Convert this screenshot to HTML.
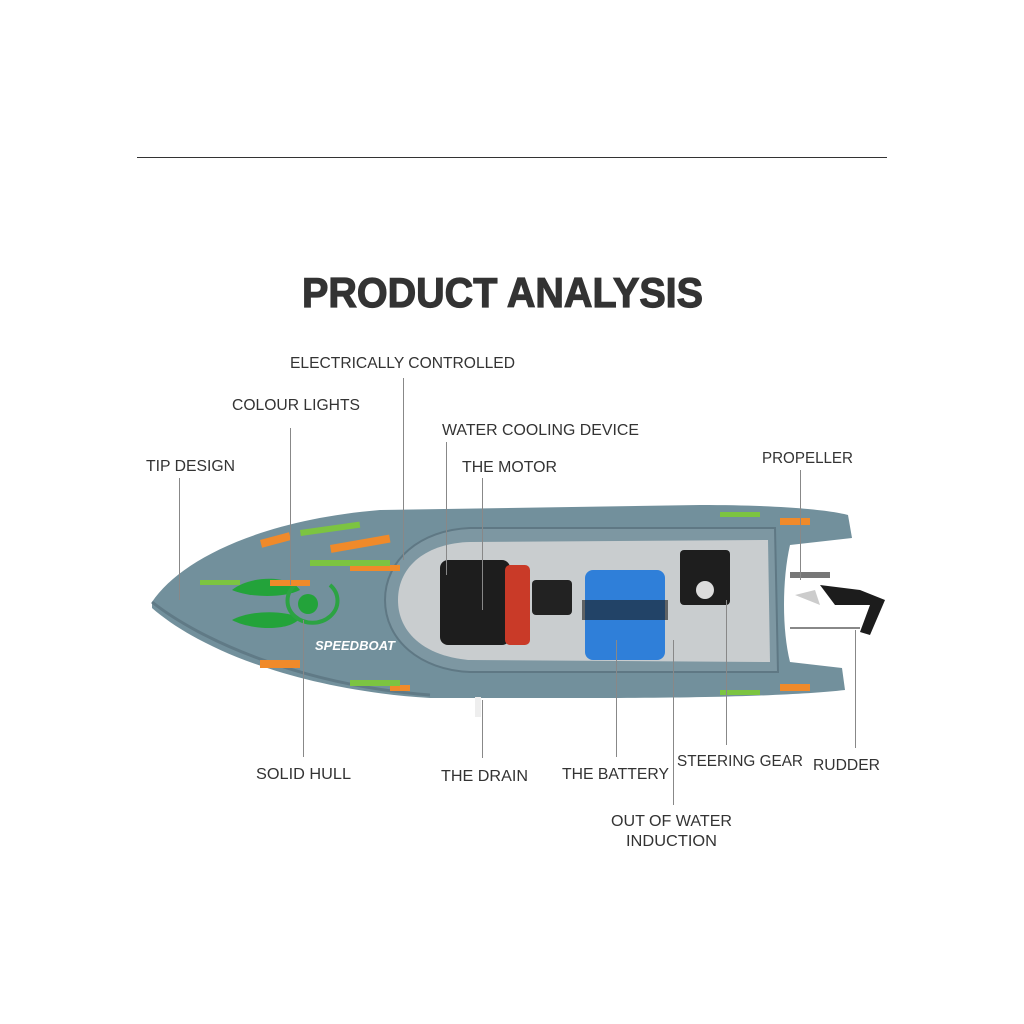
<!DOCTYPE html>
<html><head><meta charset="utf-8"><style>
html,body{margin:0;padding:0;background:#fff;}
svg{display:block;}
text{font-family:"Liberation Sans",sans-serif;fill:#333;}
</style></head><body>
<svg width="1024" height="1024" viewBox="0 0 1024 1024" xmlns="http://www.w3.org/2000/svg">
<rect width="1024" height="1024" fill="#fff"/>
<line x1="137" y1="157.5" x2="887" y2="157.5" stroke="#333" stroke-width="1"/>
<text x="302" y="307" font-size="42" font-weight="bold" textLength="401" lengthAdjust="spacingAndGlyphs" style="fill:#333;stroke:#333;stroke-width:1.2">PRODUCT ANALYSIS</text>

<!-- boat hull -->
<path d="M152,602 C180,560 260,520 380,510 L700,505 C780,505 830,510 848,515 L852,538 L790,545 C782,580 782,630 790,662 L842,668 L845,690 C800,695 720,698 600,698 L430,698 C300,690 200,650 152,608 Z" fill="#72909c"/>
<path d="M152,602 C200,640 300,685 430,695" fill="none" stroke="#607a86" stroke-width="3"/>
<!-- cockpit rim -->
<path d="M385,600 C385,560 420,530 470,528 L775,528 L778,672 L470,672 C420,670 385,640 385,600 Z" fill="#7d97a2" stroke="#5f7884" stroke-width="2"/>
<path d="M398,600 C398,565 428,543 470,542 L768,540 L770,662 L470,660 C428,657 398,635 398,600 Z" fill="#c9cdcf"/>
<!-- interior parts -->
<rect x="440" y="560" width="70" height="85" rx="8" fill="#1d1d1d"/>
<rect x="505" y="565" width="25" height="80" rx="5" fill="#c93a28"/>
<rect x="532" y="580" width="40" height="35" rx="4" fill="#222"/>
<rect x="585" y="570" width="80" height="90" rx="8" fill="#2f7fd9"/>
<rect x="582" y="600" width="86" height="20" fill="#1a1a1a" opacity="0.6"/>
<rect x="680" y="550" width="50" height="55" rx="4" fill="#1e1e1e"/>
<circle cx="705" cy="590" r="9" fill="#ddd"/>
<!-- lights -->
<path d="M232,590 C250,575 290,575 300,590 C285,598 250,598 232,590 Z" fill="#23a33a"/>
<path d="M232,620 C250,630 290,632 300,618 C285,610 250,610 232,620 Z" fill="#23a33a"/>
<circle cx="308" cy="604" r="10" fill="#23a33a"/>
<path d="M295,585 A25,22 0 1,0 330,585" fill="none" stroke="#2ca343" stroke-width="4"/>
<!-- decals -->
<g fill="#f08a2a">
<rect x="260" y="540" width="30" height="8" transform="rotate(-15 260 540)"/>
<rect x="330" y="545" width="60" height="8" transform="rotate(-10 330 545)"/>
<rect x="270" y="580" width="40" height="6"/>
<rect x="350" y="565" width="50" height="6"/>
<rect x="260" y="660" width="40" height="8"/>
<rect x="390" y="685" width="20" height="6"/>
<rect x="780" y="518" width="30" height="7"/>
<rect x="780" y="684" width="30" height="7"/>
</g>
<g fill="#7cc441">
<rect x="300" y="530" width="60" height="6" transform="rotate(-8 300 530)"/>
<rect x="310" y="560" width="80" height="6"/>
<rect x="200" y="580" width="40" height="5"/>
<rect x="350" y="680" width="50" height="6"/>
<rect x="720" y="512" width="40" height="5"/>
<rect x="720" y="690" width="40" height="5"/>
</g>
<text x="315" y="650" font-size="13" font-style="italic" font-weight="bold" style="fill:#fff">SPEEDBOAT</text>
<!-- propeller/rudder -->
<rect x="790" y="572" width="40" height="6" fill="#777"/>
<path d="M795,595 L815,590 L820,605 Z" fill="#ccc"/>
<path d="M820,585 L860,590 L885,600 L870,635 L860,632 L870,605 L835,605 Z" fill="#1c1c1c"/>
<line x1="790" y1="628" x2="860" y2="628" stroke="#888" stroke-width="2"/>
<rect x="475" y="697" width="6" height="20" fill="#eee"/>

<!-- leader lines -->
<g stroke="#888" stroke-width="1">
<line x1="179.5" y1="478" x2="179.5" y2="600"/>
<line x1="290.5" y1="428" x2="290.5" y2="585"/>
<line x1="403.5" y1="378" x2="403.5" y2="560"/>
<line x1="446.5" y1="442" x2="446.5" y2="575"/>
<line x1="482.5" y1="478" x2="482.5" y2="610"/>
<line x1="800.5" y1="470" x2="800.5" y2="580"/>
<line x1="303.5" y1="620" x2="303.5" y2="757"/>
<line x1="482.5" y1="700" x2="482.5" y2="758"/>
<line x1="616.5" y1="640" x2="616.5" y2="757"/>
<line x1="726.5" y1="600" x2="726.5" y2="745"/>
<line x1="855.5" y1="630" x2="855.5" y2="748"/>
<line x1="673.5" y1="640" x2="673.5" y2="805"/>
</g>

<!-- labels -->
<g font-size="16">
<text x="290" y="368" textLength="225" lengthAdjust="spacingAndGlyphs">ELECTRICALLY CONTROLLED</text>
<text x="232" y="410" textLength="128" lengthAdjust="spacingAndGlyphs">COLOUR LIGHTS</text>
<text x="442" y="435" textLength="197" lengthAdjust="spacingAndGlyphs">WATER COOLING DEVICE</text>
<text x="462" y="472" textLength="95" lengthAdjust="spacingAndGlyphs">THE MOTOR</text>
<text x="146" y="471" textLength="89" lengthAdjust="spacingAndGlyphs">TIP DESIGN</text>
<text x="762" y="463" textLength="91" lengthAdjust="spacingAndGlyphs">PROPELLER</text>
<text x="256" y="779" textLength="95" lengthAdjust="spacingAndGlyphs">SOLID HULL</text>
<text x="441" y="781" textLength="87" lengthAdjust="spacingAndGlyphs">THE DRAIN</text>
<text x="562" y="779" textLength="107" lengthAdjust="spacingAndGlyphs">THE BATTERY</text>
<text x="677" y="766" textLength="126" lengthAdjust="spacingAndGlyphs">STEERING GEAR</text>
<text x="813" y="770" textLength="67" lengthAdjust="spacingAndGlyphs">RUDDER</text>
<text x="611" y="826" textLength="121" lengthAdjust="spacingAndGlyphs">OUT OF WATER</text>
<text x="626" y="846" textLength="91" lengthAdjust="spacingAndGlyphs">INDUCTION</text>
</g>
</svg>
</body></html>
